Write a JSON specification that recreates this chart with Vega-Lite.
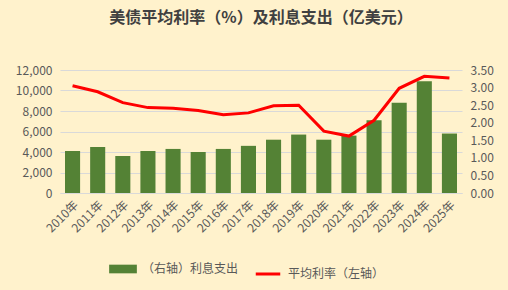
{
  "$schema": "https://vega.github.io/schema/vega-lite/v6.json",
  "width": 402,
  "height": 123,
  "autosize": {"type": "none"},
  "padding": {"left": 60, "top": 70, "right": 46, "bottom": 97},
  "background": "#FFF2CC",
  "title": {
    "text": "美债平均利率（%）及利息支出（亿美元）",
    "font": "Noto Sans CJK SC",
    "fontSize": 16,
    "fontWeight": "bold",
    "color": "#404040",
    "anchor": "middle",
    "offset": 38
  },
  "config": {
    "view": {"stroke": null},
    "axis": {
      "labelFont": "Noto Sans CJK SC",
      "labelColor": "#595959",
      "labelFontSize": 12,
      "domain": false,
      "ticks": false,
      "grid": false
    },
    "legend": {
      "labelFont": "Noto Sans CJK SC",
      "labelColor": "#595959",
      "labelFontSize": 12,
      "title": null
    }
  },
  "data": {
    "values": [
      {"year": "2010年", "interest": 4100, "rate": 3.05, "bar": "（右轴）利息支出", "line": "平均利率（左轴）"},
      {"year": "2011年", "interest": 4500, "rate": 2.88, "bar": "（右轴）利息支出", "line": "平均利率（左轴）"},
      {"year": "2012年", "interest": 3600, "rate": 2.57, "bar": "（右轴）利息支出", "line": "平均利率（左轴）"},
      {"year": "2013年", "interest": 4100, "rate": 2.43, "bar": "（右轴）利息支出", "line": "平均利率（左轴）"},
      {"year": "2014年", "interest": 4300, "rate": 2.41, "bar": "（右轴）利息支出", "line": "平均利率（左轴）"},
      {"year": "2015年", "interest": 4000, "rate": 2.35, "bar": "（右轴）利息支出", "line": "平均利率（左轴）"},
      {"year": "2016年", "interest": 4300, "rate": 2.23, "bar": "（右轴）利息支出", "line": "平均利率（左轴）"},
      {"year": "2017年", "interest": 4600, "rate": 2.28, "bar": "（右轴）利息支出", "line": "平均利率（左轴）"},
      {"year": "2018年", "interest": 5200, "rate": 2.48, "bar": "（右轴）利息支出", "line": "平均利率（左轴）"},
      {"year": "2019年", "interest": 5700, "rate": 2.50, "bar": "（右轴）利息支出", "line": "平均利率（左轴）"},
      {"year": "2020年", "interest": 5200, "rate": 1.76, "bar": "（右轴）利息支出", "line": "平均利率（左轴）"},
      {"year": "2021年", "interest": 5600, "rate": 1.62, "bar": "（右轴）利息支出", "line": "平均利率（左轴）"},
      {"year": "2022年", "interest": 7100, "rate": 2.07, "bar": "（右轴）利息支出", "line": "平均利率（左轴）"},
      {"year": "2023年", "interest": 8800, "rate": 2.98, "bar": "（右轴）利息支出", "line": "平均利率（左轴）"},
      {"year": "2024年", "interest": 10900, "rate": 3.32, "bar": "（右轴）利息支出", "line": "平均利率（左轴）"},
      {"year": "2025年", "interest": 5800, "rate": 3.27, "bar": "（右轴）利息支出", "line": "平均利率（左轴）"}
    ]
  },
  "encoding": {
    "x": {
      "field": "year",
      "type": "ordinal",
      "title": null,
      "scale": {"paddingInner": 0.4, "paddingOuter": 0.2},
      "axis": {"labelAngle": -45, "labelPadding": 6, "domain": true, "domainColor": "#D9D9D9"}
    }
  },
  "layer": [
    {
      "mark": {"type": "bar", "color": "#548235"},
      "encoding": {
        "y": {
          "field": "interest",
          "type": "quantitative",
          "title": null,
          "scale": {"domain": [0, 12000]},
          "axis": {"orient": "left", "values": [0, 2000, 4000, 6000, 8000, 10000, 12000], "format": ",d", "grid": true, "gridColor": "#D9D9D9", "labelPadding": 8}
        },
        "color": {
          "field": "bar",
          "type": "nominal",
          "scale": {"range": ["#548235"]},
          "legend": {"orient": "none", "legendX": 54, "legendY": 190, "symbolType": "M-1.6,-0.5H1.6V0.5H-1.6Z", "symbolSize": 300, "symbolStrokeWidth": 0, "labelOffset": 10}
        }
      }
    },
    {
      "mark": {"type": "line", "strokeWidth": 3},
      "encoding": {
        "y": {
          "field": "rate",
          "type": "quantitative",
          "title": null,
          "scale": {"domain": [0, 3.5]},
          "axis": {"orient": "right", "values": [0, 0.5, 1, 1.5, 2, 2.5, 3, 3.5], "format": ".2f", "labelPadding": 8}
        },
        "stroke": {
          "field": "line",
          "type": "nominal",
          "scale": {"range": ["#FF0000"]},
          "legend": {"orient": "none", "legendX": 194, "legendY": 190, "symbolType": "stroke", "symbolStrokeWidth": 3, "symbolSize": 600, "labelOffset": 6}
        }
      }
    }
  ],
  "resolve": {"scale": {"y": "independent", "color": "independent", "stroke": "independent"}}
}
